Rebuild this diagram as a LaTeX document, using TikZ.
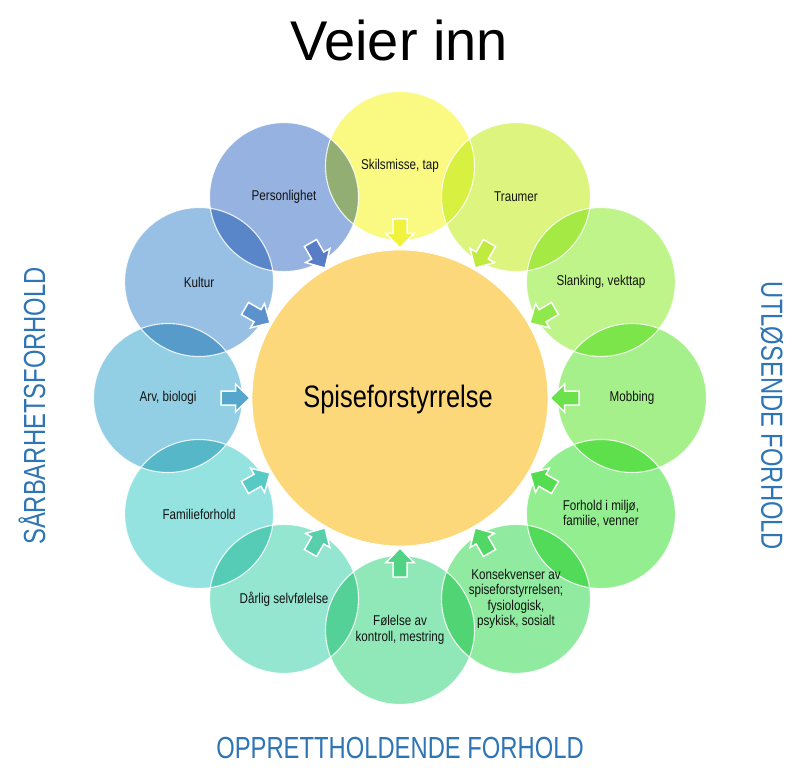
\documentclass[tikz,border=0pt]{standalone}
\usepackage{fontspec}
\setmainfont{Liberation Sans}
\newfontfamily\nrwfont{Liberation Sans}[FakeStretch=0.82]
\newfontfamily\labfont{Liberation Sans}[FakeStretch=0.78]
\definecolor{hubcol}{RGB}{253,216,122}
\definecolor{labcol}{RGB}{46,117,182}
\definecolor{txtcol}{RGB}{18,18,18}
\definecolor{c1}{RGB}{250,250,130}\definecolor{a1}{RGB}{240,242,60}
\definecolor{c2}{RGB}{221,245,126}\definecolor{a2}{RGB}{192,235,62}
\definecolor{c3}{RGB}{191,244,138}\definecolor{a3}{RGB}{143,233,75}
\definecolor{c4}{RGB}{165,240,138}\definecolor{a4}{RGB}{107,226,75}
\definecolor{c5}{RGB}{146,238,142}\definecolor{a5}{RGB}{84,222,79}
\definecolor{c6}{RGB}{144,234,160}\definecolor{a6}{RGB}{81,215,100}
\definecolor{c7}{RGB}{144,232,184}\definecolor{a7}{RGB}{81,211,133}
\definecolor{c8}{RGB}{148,230,208}\definecolor{a8}{RGB}{86,207,170}
\definecolor{c9}{RGB}{149,227,224}\definecolor{a9}{RGB}{87,202,197}
\definecolor{c10}{RGB}{146,206,228}\definecolor{a10}{RGB}{84,166,204}
\definecolor{c11}{RGB}{152,192,228}\definecolor{a11}{RGB}{91,145,204}
\definecolor{c12}{RGB}{150,178,225}\definecolor{a12}{RGB}{88,124,198}
\tikzset{
  orb/.style={circle, minimum size=149pt, inner sep=0pt, fill=#1},
  orbtext/.style={font=\nrwfont\fontsize{14.2}{15.4}\selectfont, text=txtcol, align=center},
  sidelab/.style={font=\labfont\fontsize{30.5}{34}\selectfont, text=labcol},
  blockarrow/.style={fill=#1, draw=white, line width=1.5pt, line join=miter}
}
\begin{document}
\begin{tikzpicture}[x=1pt,y=1pt]
\useasboundingbox (0,-775) rectangle (800,0);
\fill[white] (0,-775) rectangle (800,0);
\coordinate (C) at (400,-398);
% title
\node[anchor=base, font=\fontsize{56}{60}\selectfont] (title) at (399,-61) {Veier inn};
% hub
\node[circle, minimum size=296pt, inner sep=0pt, fill=hubcol, draw=white, line width=0.8pt] (hub) at (C) {};
\node[anchor=base, font=\nrwfont\fontsize{31}{36}\selectfont, text=black] (hubtext) at (398,-407) {Spiseforstyrrelse};
% outer circles (fills multiplied)
\begin{scope}[blend mode=multiply]
\foreach \ang [count=\i] in {90,60,30,0,-30,-60,-90,-120,-150,180,150,120}{
  \node[orb=c\i] (o\i) at ([shift={(\ang:232)}]C) {};
}
\end{scope}
\foreach \i in {1,...,12}{
  \draw[white, line width=1.1pt, opacity=0.85] (o\i.center) circle (74.5);
}
% labels in circles
\foreach \txt [count=\i] in {{Skilsmisse, tap},{Traumer},{Slanking, vekttap},{Mobbing},
  {Forhold i milj\o,\\familie, venner},
  {Konsekvenser av\\spiseforstyrrelsen;\\fysiologisk,\\psykisk, sosialt},
  {F\o lelse av\\kontroll, mestring},{D\aa rlig selvf\o lelse},{Familieforhold},
  {Arv, biologi},{Kultur},{Personlighet}}{
  \node[orbtext] (t\i) at (o\i.center) {\txt};
}
% block arrows pointing to the hub
\foreach \ang [count=\i] in {90,60,30,0,-30,-60,-90,-120,-150,180,150,120}{
  \begin{scope}[shift={([shift={(\ang:164.5)}]C)}, rotate=\ang+180]
    \draw[blockarrow=a\i] (-14.5,-7) -- (0,-7) -- (0,-14) -- (14.5,0) -- (0,14) -- (0,7) -- (-14.5,7) -- cycle;
  \end{scope}
}
% side labels
\node[sidelab, rotate=90] (left) at (32,-406) {SÅRBARHETSFORHOLD};
\node[sidelab, rotate=-90] (right) at (772,-416) {UTLØSENDE FORHOLD};
\node[sidelab] (bottom) at (400,-748) {OPPRETTHOLDENDE FORHOLD};
\end{tikzpicture}
\end{document}
